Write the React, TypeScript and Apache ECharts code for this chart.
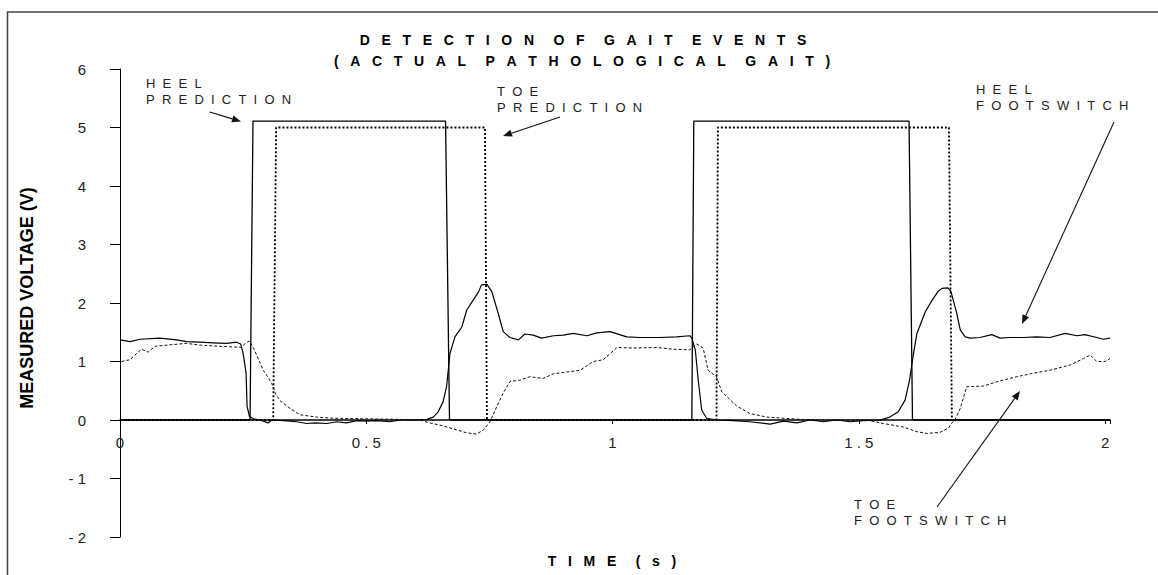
import React, { useEffect, useRef } from "react";
import * as echarts from "echarts";

// ---------- data (seconds, volts) ----------
const heelPredictionTime = [0, 0.264, 0.27, 0.661, 0.669, 1.161, 1.165, 1.602, 1.609, 2.01];
const heelPredictionVolt = [0, 0, 5.11, 5.11, 0, 0, 5.11, 5.11, 0, 0];

const toePredictionTime = [0, 0.311, 0.317, 0.741, 0.745, 1.211, 1.214, 1.683, 1.689, 2.01];
const toePredictionVolt = [0, 0, 5.0, 5.0, 0, 0, 5.0, 5.0, 0, 0];

const heelFootswitchTime = [
  0.0, 0.02, 0.041, 0.081, 0.115, 0.135, 0.162, 0.189, 0.217, 0.237, 0.245, 0.25, 0.256, 0.258,
  0.263, 0.271, 0.284, 0.301, 0.308, 0.332, 0.359, 0.379, 0.396, 0.42, 0.44, 0.46, 0.481, 0.501,
  0.521, 0.548, 0.569, 0.596, 0.623, 0.636, 0.646, 0.656, 0.663, 0.67, 0.68, 0.694, 0.704, 0.717,
  0.728, 0.734, 0.745, 0.755, 0.768, 0.778, 0.792, 0.809, 0.822, 0.839, 0.856, 0.88, 0.9, 0.92,
  0.948, 0.968, 0.995, 1.029, 1.056, 1.096, 1.13, 1.157, 1.161, 1.168, 1.174, 1.181, 1.191, 1.212,
  1.245, 1.279, 1.32, 1.347, 1.374, 1.401, 1.428, 1.455, 1.482, 1.509, 1.543, 1.563, 1.58, 1.594,
  1.603, 1.61, 1.618, 1.635, 1.649, 1.661, 1.669, 1.681, 1.687, 1.699, 1.706, 1.716, 1.726, 1.746,
  1.77, 1.787, 1.807, 1.834, 1.861, 1.888, 1.919, 1.943, 1.959, 1.983, 1.997, 2.01,
];
const heelFootswitchVolt = [
  1.37, 1.34, 1.38, 1.4, 1.37, 1.34, 1.33, 1.32, 1.31, 1.33, 1.3, 1.14, 0.8, 0.23,
  0.06, 0.02, 0.0, -0.05, 0.0, -0.01, -0.03, -0.06, -0.05, -0.06, -0.03, -0.05, -0.01, -0.02,
  -0.01, -0.03, 0.0, 0.0, 0.01, 0.05, 0.14, 0.31, 0.57, 1.14, 1.42, 1.59, 1.88, 2.05,
  2.19, 2.31, 2.32, 2.19, 1.82, 1.51, 1.41, 1.37, 1.47, 1.45, 1.4, 1.44, 1.45, 1.48,
  1.44, 1.49, 1.51, 1.42, 1.41, 1.41, 1.42, 1.44, 1.4, 1.2, 0.68, 0.17, 0.03, 0.0,
  -0.01, -0.03, -0.07, -0.02, -0.05, 0.0, -0.03, 0.0, -0.03, -0.01, 0.0, 0.05, 0.14, 0.34,
  0.68, 1.08, 1.48, 1.85, 2.05, 2.2, 2.25, 2.26, 2.2, 1.82, 1.54, 1.42, 1.4, 1.41,
  1.46, 1.4, 1.41, 1.41, 1.42, 1.41, 1.48, 1.44, 1.46, 1.41, 1.38, 1.4,
];

const toeFootswitchTime = [
  0.003, 0.02, 0.034, 0.044, 0.057, 0.071, 0.095, 0.135, 0.162, 0.203, 0.23, 0.247, 0.254, 0.263,
  0.271, 0.291, 0.308, 0.315, 0.325, 0.345, 0.365, 0.399, 0.433, 0.501, 0.569, 0.609, 0.629, 0.656,
  0.684, 0.704, 0.724, 0.738, 0.751, 0.765, 0.778, 0.792, 0.812, 0.832, 0.859, 0.88, 0.907, 0.934,
  0.961, 0.981, 1.009, 1.042, 1.09, 1.123, 1.157, 1.171, 1.184, 1.194, 1.211, 1.222, 1.232, 1.252,
  1.279, 1.313, 1.381, 1.448, 1.516, 1.55, 1.59, 1.618, 1.638, 1.665, 1.682, 1.689, 1.695, 1.706,
  1.719, 1.753, 1.787, 1.821, 1.854, 1.888, 1.929, 1.956, 1.97, 1.983, 2.0, 2.01,
];
const toeFootswitchVolt = [
  1.0, 1.03, 1.14, 1.21, 1.16, 1.26, 1.28, 1.31, 1.28, 1.26, 1.25, 1.24, 1.31, 1.35,
  1.23, 0.85, 0.63, 0.46, 0.33, 0.2, 0.09, 0.05, 0.03, 0.02, 0.01, 0.0, -0.05, -0.1,
  -0.17, -0.22, -0.24, -0.17, -0.03, 0.23, 0.46, 0.66, 0.68, 0.74, 0.71, 0.79, 0.82, 0.85,
  1.0, 1.03, 1.24, 1.23, 1.24, 1.21, 1.2, 1.3, 1.23, 0.85, 0.74, 0.48, 0.4, 0.24,
  0.11, 0.05, 0.01, 0.0, 0.0, -0.06, -0.12, -0.2, -0.23, -0.21, -0.14, -0.05, 0.0, 0.2,
  0.57, 0.58, 0.67, 0.74, 0.8, 0.85, 0.94, 1.05, 1.11, 1.0, 1.0, 1.05,
];

const titleLines = ["DETECTION OF GAIT EVENTS", "(ACTUAL PATHOLOGICAL GAIT)"];
const xTitle = "TIME (s)";
const yTitle = "MEASURED VOLTAGE (V)";
const annotationLabels = [
  ["HEEL", "PREDICTION"],
  ["TOE", "PREDICTION"],
  ["HEEL", "FOOTSWITCH"],
  ["TOE", "FOOTSWITCH"],
];

// ---------- layout ----------
const W = 1158;
const H = 575;
const GRID_TOP = 69;
const GRID_BOTTOM = 38;
const Y_MIN = -2;
const Y_MAX = 6;
const FONT = "'Liberation Sans', Arial, Helvetica, sans-serif";
const NB = "\u00a0";
const annotationLayout = [
  { x: 146, y: 83, arrow: [209.7, 112, 241, 121.5] },
  { x: 497, y: 91, arrow: [560, 117, 503, 136] },
  { x: 976, y: 89, arrow: [1114, 122, 1022, 324] },
  { x: 854, y: 504, arrow: [937, 507, 1020, 391] },
];

const spaced = (s: string, gap: number, wordGap: number) =>
  s
    .split(" ")
    .map((w) => w.split("").join(NB.repeat(gap)))
    .join(NB.repeat(wordGap));

const zip = (a: number[], b: number[]) => a.map((t, i) => [t, b[i]]);

function arrow(x1: number, y1: number, x2: number, y2: number) {
  const dx = x2 - x1;
  const dy = y2 - y1;
  const len = Math.sqrt(dx * dx + dy * dy);
  const ux = dx / len;
  const uy = dy / len;
  const hl = 9;
  const hw = 3.6;
  const bx = x2 - ux * hl;
  const by = y2 - uy * hl;
  return [
    {
      type: "line",
      silent: true,
      shape: { x1, y1, x2: bx, y2: by },
      style: { stroke: "#111", lineWidth: 1.1 },
    },
    {
      type: "polygon",
      silent: true,
      shape: {
        points: [
          [x2, y2],
          [bx - uy * hw, by + ux * hw],
          [bx + uy * hw, by - ux * hw],
        ],
      },
      style: { fill: "#111" },
    },
  ];
}

export default function App() {
  const ref = useRef<HTMLDivElement>(null);

  useEffect(() => {
    if (!ref.current) return;
    const chart = echarts.init(ref.current, undefined, { renderer: "svg" });

    // x axis sits on y = 0: shift it up from the grid bottom by the pixel span of [Y_MIN, 0]
    const plotH = H - GRID_TOP - GRID_BOTTOM;
    const zeroOffset = -((0 - Y_MIN) / (Y_MAX - Y_MIN)) * plotH;

    const graphics: any[] = [
      {
        type: "rect",
        silent: true,
        shape: { x: 7.5, y: 12, width: 1300, height: 700 },
        style: { fill: "none", stroke: "#444", lineWidth: 1.5 },
      },
      {
        type: "text",
        silent: true,
        x: 583,
        y: 40,
        style: {
          text: spaced(titleLines[0], 3, 5),
          font: `bold 14px ${FONT}`,
          fill: "#000",
          textAlign: "center",
          textVerticalAlign: "middle",
        },
      },
      {
        type: "text",
        silent: true,
        x: 582,
        y: 61,
        style: {
          text: spaced(titleLines[1], 3, 5),
          font: `bold 14px ${FONT}`,
          fill: "#000",
          textAlign: "center",
          textVerticalAlign: "middle",
        },
      },
      {
        type: "text",
        silent: true,
        x: 612,
        y: 561,
        style: {
          text: spaced(xTitle, 3, 5),
          font: `bold 14px ${FONT}`,
          fill: "#000",
          textAlign: "center",
          textVerticalAlign: "middle",
        },
      },
      {
        type: "text",
        silent: true,
        x: 27,
        y: 298,
        rotation: Math.PI / 2,
        style: {
          text: yTitle,
          font: `bold 18px ${FONT}`,
          fill: "#000",
          textAlign: "center",
          textVerticalAlign: "middle",
        },
      },
    ];

    annotationLabels.forEach((lines, i) => {
      const L = annotationLayout[i];
      lines.forEach((line, j) => {
        graphics.push({
          type: "text",
          silent: true,
          x: L.x,
          y: L.y + j * 16,
          style: {
            text: spaced(line, 2, 4),
            font: `13px ${FONT}`,
            fill: "#222",
            textAlign: "left",
            textVerticalAlign: "middle",
          },
        });
      });
      const [x1, y1, x2, y2] = L.arrow;
      graphics.push(...arrow(x1, y1, x2, y2));
    });

    const spacedNum = (v: number) => String(v).split("").join(" ");

    chart.setOption({
      animation: false,
      backgroundColor: "#fff",
      grid: { left: 120, right: 48, top: GRID_TOP, bottom: GRID_BOTTOM, containLabel: false },
      xAxis: {
        type: "value",
        min: 0,
        max: 2.01,
        interval: 0.5,
        position: "bottom",
        offset: zeroOffset,
        axisLine: { onZero: false, lineStyle: { color: "#000", width: 1.5 } },
        axisTick: { show: true, length: 4, lineStyle: { color: "#000" } },
        axisLabel: {
          margin: 15,
          color: "#222",
          fontSize: 15,
          fontFamily: FONT,
          formatter: (v: number) => (v > 2.001 ? "" : spacedNum(v)),
        },
        splitLine: { show: false },
      },
      yAxis: {
        type: "value",
        min: Y_MIN,
        max: Y_MAX,
        interval: 1,
        axisLine: { show: true, onZero: false, lineStyle: { color: "#000", width: 1 } },
        axisTick: { show: true, length: 10, lineStyle: { color: "#000" } },
        axisLabel: {
          margin: 34,
          color: "#222",
          fontSize: 15,
          fontFamily: FONT,
          formatter: (v: number) => spacedNum(v),
        },
        splitLine: { show: false },
      },
      graphic: graphics,
      series: [
        {
          name: "Heel prediction",
          type: "line",
          data: zip(heelPredictionTime, heelPredictionVolt),
          showSymbol: false,
          lineStyle: { color: "#000", width: 1.3, type: "solid" },
          z: 3,
        },
        {
          name: "Toe prediction",
          type: "line",
          data: zip(toePredictionTime, toePredictionVolt),
          showSymbol: false,
          lineStyle: { color: "#000", width: 1.8, type: [2, 2] },
          z: 3,
        },
        {
          name: "Heel footswitch",
          type: "line",
          data: zip(heelFootswitchTime, heelFootswitchVolt),
          showSymbol: false,
          lineStyle: { color: "#000", width: 1.2, type: "solid" },
          z: 4,
        },
        {
          name: "Toe footswitch",
          type: "line",
          data: zip(toeFootswitchTime, toeFootswitchVolt),
          showSymbol: false,
          lineStyle: { color: "#111", width: 1, type: [3, 2] },
          z: 4,
        },
      ],
    });

    return () => chart.dispose();
  }, []);

  return (
    <div
      ref={ref}
      style={{ position: "fixed", left: 0, top: 0, width: W, height: H, background: "#fff" }}
    />
  );
}
